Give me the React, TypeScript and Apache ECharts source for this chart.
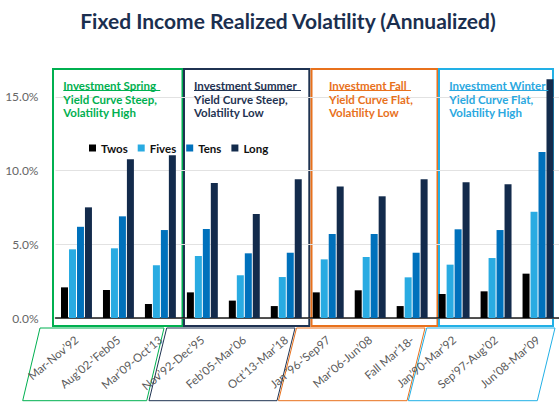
import React, { useEffect, useRef } from "react";
import * as echarts from "echarts";

const categories = [
  "Mar-Nov’92", "Aug’02-’Feb05", "Mar’09-Oct’13",
  "Nov’92-Dec’95", "Feb’05-Mar’06", "Oct’13-Mar’18",
  "Jan ’96-’Sep97", "Mar’06-Jun’08", "Fall Mar’18-",
  "Jan’90-Mar’92", "Sep’97-Aug’02", "Jun’08-Mar’09",
];
const twos = [2.08, 1.9, 0.95, 1.74, 1.18, 0.81, 1.74, 1.88, 0.81, 1.63, 1.81, 3.01];
const fives = [4.66, 4.73, 3.58, 4.21, 2.9, 2.78, 3.98, 4.14, 2.76, 3.62, 4.07, 7.21];
const tens = [6.19, 6.9, 5.97, 6.04, 4.39, 4.43, 5.7, 5.7, 4.43, 6.02, 5.97, 11.26];
const longs = [7.51, 10.77, 11.04, 9.16, 7.06, 9.41, 8.93, 8.26, 9.41, 9.21, 9.07, 16.21];
const seriesNames = ["Twos", "Fives", "Tens", "Long"];
const yTicks = [0, 5, 10, 15];

const panelTitles = ["Investment Spring", "Investment Summer", "Investment Fall", "Investment Winter"];
const panelLine2 = ["Yield Curve Steep,", "Yield Curve Steep,", "Yield Curve Flat,", "Yield Curve Flat,"];
const panelLine3 = ["Volatility High", "Volatility Low", "Volatility Low", "Volatility High"];

const FONT = "Lato, 'Open Sans', sans-serif";
const colors = ["#000000", "#29abe2", "#0071bc", "#132b4c"];
const panelColors = ["#00b050", "#1f3352", "#e8711c", "#22b0e6"];
const panelTextColors = ["#00b050", "#1f3352", "#e8711c", "#2aa8e0"];
const boxes = [
  [53, 182.5],
  [184, 309.3],
  [311.5, 437.5],
  [439, 553],
];
const textX = [63.3, 194, 329, 449.3];
const underlineW = [97, 107, 82, 99];
const paras = [
  [[40, 328], [164, 328], [146.7, 400.7], [22.7, 400.7]],
  [[166.7, 328], [295, 328], [277, 400.7], [149, 400.7]],
  [[296.5, 328], [425, 328], [407, 400.7], [278.5, 400.7]],
  [[426.7, 328], [555, 328], [537.3, 400.7], [408.3, 400.7]],
];

export default function App() {
  const ref = useRef<HTMLDivElement>(null);
  useEffect(() => {
    if (!ref.current) return;
    const chart = echarts.init(ref.current, undefined, { renderer: "svg" });
    const values = [twos, fives, tens, longs];
    const graphics: any[] = [
      {
        type: "text",
        x: 288,
        y: 20,
        z: 10,
        style: {
          text: "Fixed Income Realized Volatility (Annualized)",
          font: `bold 21px ${FONT}`,
          fill: "#1b2f4f",
          textAlign: "center",
          textVerticalAlign: "middle",
        },
      },
    ];
    boxes.forEach((b, i) => {
      graphics.push({
        type: "rect",
        z: 0,
        shape: { x: b[0], y: 69, width: b[1] - b[0], height: 257 },
        style: { fill: "none", stroke: panelColors[i], lineWidth: 2 },
      });
      graphics.push({
        type: "polygon",
        z: 0,
        shape: { points: paras[i] },
        style: { fill: "none", stroke: panelColors[i], lineWidth: 1 },
      });
      const lines = [panelTitles[i], panelLine2[i], panelLine3[i]];
      lines.forEach((t, k) => {
        graphics.push({
          type: "text",
          x: textX[i],
          y: 85.7 + k * 13.5,
          z: 10,
          style: {
            text: t,
            font: `bold 11.5px ${FONT}`,
            fill: panelTextColors[i],
            textAlign: "left",
            textVerticalAlign: "middle",
          },
        });
      });
      graphics.push({
        type: "line",
        z: 10,
        shape: { x1: textX[i], y1: 90.5, x2: textX[i] + underlineW[i], y2: 90.5 },
        style: { stroke: panelTextColors[i], lineWidth: 1 },
      });
    });

    chart.setOption({
      animation: false,
      grid: { left: 55.5, right: -8, top: 69, bottom: 84 },
      legend: {
        data: seriesNames,
        left: 89,
        top: 142,
        padding: 0,
        itemWidth: 7,
        itemHeight: 7,
        itemGap: 10,
        icon: "rect",
        selectedMode: false,
        z: 20,
        textStyle: { fontFamily: FONT, fontSize: 11.5, fontWeight: "bold", color: "#111" },
      },
      xAxis: {
        type: "category",
        data: categories,
        axisLine: { lineStyle: { color: "#1a1a1a", width: 1.5 } },
        axisTick: { show: false },
        axisLabel: {
          rotate: 40,
          margin: 20,
          interval: 0,
          fontFamily: FONT,
          fontSize: 11.5,
          color: "#5a5a5a",
        },
      },
      yAxis: {
        type: "value",
        min: yTicks[0],
        max: 16.9,
        interval: 5,
        axisLine: { show: false },
        axisTick: { show: false },
        axisLabel: {
          showMaxLabel: false,
          margin: 17,
          fontFamily: FONT,
          fontSize: 12,
          color: "#666",
          formatter: (v: number) => v.toFixed(1) + "%",
        },
        splitLine: { showMaxLine: false, lineStyle: { color: "#e2e2e2", width: 1 } },
      },
      series: seriesNames.map((n, i) => ({
        name: n,
        type: "bar",
        data: values[i],
        barWidth: 7,
        barGap: "14%",
        itemStyle: { color: colors[i] },
        z: 5,
      })),
      graphic: graphics,
    });
    return () => chart.dispose();
  }, []);
  return (
    <div
      ref={ref}
      style={{ position: "fixed", left: 0, top: 0, width: 559, height: 402, background: "#fff" }}
    />
  );
}
